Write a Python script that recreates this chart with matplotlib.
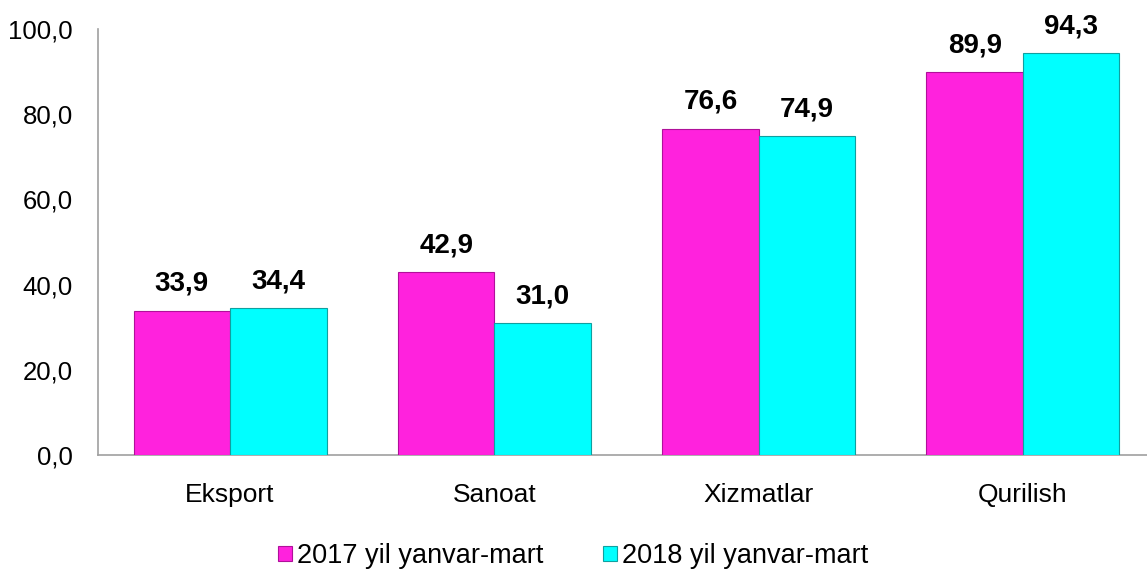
import matplotlib
matplotlib.use("Agg")
import matplotlib.pyplot as plt
import numpy as np

categories = ["Eksport", "Sanoat", "Xizmatlar", "Qurilish"]
series_names = ["2017 yil yanvar-mart", "2018 yil yanvar-mart"]
values_2017 = [33.9, 42.9, 76.6, 89.9]
values_2018 = [34.4, 31.0, 74.9, 94.3]
yticks = [0, 20, 40, 60, 80, 100]

plt.rcParams['font.family'] = ['Liberation Sans', 'DejaVu Sans']

fig = plt.figure(figsize=(11.47, 5.72), dpi=100)
ax = fig.add_axes([98/1147, 117/572, 1057/1147, 426/572])

x = np.arange(len(categories))
w = 0.365
colors = ["#FF22DD", "#00FFFF"]
edges = ["#B0109A", "#10A0A0"]
for i, (vals, c, e, name) in enumerate(zip([values_2017, values_2018], colors, edges, series_names)):
    pos = x + (i - 0.5) * w
    bars = ax.bar(pos, vals, width=w, color=c, edgecolor=e, linewidth=0.8, label=name, zorder=3)
    for b, v in zip(bars, vals):
        ax.annotate(f"{v:.1f}".replace(".", ","), (b.get_x() + b.get_width()/2, v),
                    xytext=(0, 10), textcoords="offset points", ha="center", va="bottom",
                    fontsize=20, fontweight="bold", color="black")

ax.set_xlim(-0.5, len(categories) - 0.5)
ax.set_ylim(0, 100)
ax.set_yticks(yticks)
ax.set_yticklabels([f"{t:.1f}".replace(".", ",") for t in yticks], fontsize=18.5)
ax.set_xticks(x)
ax.set_xticklabels(categories, fontsize=19)
ax.tick_params(axis='both', length=0)
ax.tick_params(axis='y', pad=18)
ax.tick_params(axis='x', pad=20)
for s in ["top", "right"]:
    ax.spines[s].set_visible(False)
for s in ["left", "bottom"]:
    ax.spines[s].set_color("#A0A0A0")
    ax.spines[s].set_linewidth(1.2)

leg = fig.legend(loc="center", bbox_to_anchor=(0.5, 16/572), ncol=2, frameon=False,
                 fontsize=19.5, handlelength=0.5, handleheight=0.5, handletextpad=0.2, columnspacing=2.2)

fig.savefig("out.png", dpi=100)
